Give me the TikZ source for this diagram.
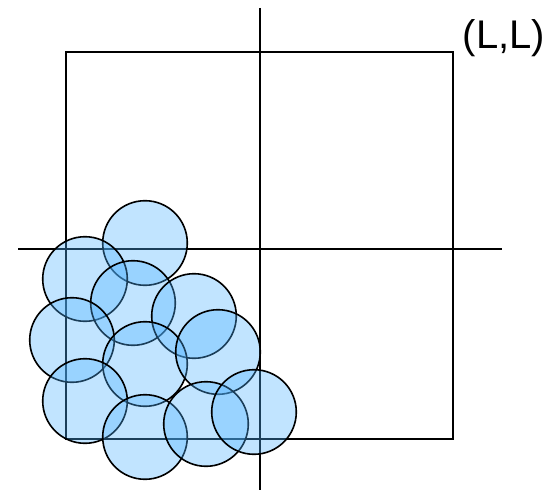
\documentclass[tikz,border=0pt]{standalone}
\usepackage{fontspec}
\setmainfont{Liberation Sans}
\usepackage{xcolor}
\definecolor{cellblue}{RGB}{78,178,255}
\usepackage{tikz}
\usetikzlibrary{positioning}

\begin{document}
\begin{tikzpicture}[
        x=1pt, y=-1pt,
        disk/.style={circle, draw=black, line width=1.6pt, fill=cellblue, fill opacity=0.35, minimum size=84.6pt, inner sep=0pt},
        axis/.style={line width=1.4pt, draw=black}
    ]
        \useasboundingbox (0,0) rectangle (560,492);

        % box and cut lines
        \coordinate (origin) at (66,439);
        \coordinate (corner) at (453,52);
        \draw[axis] (origin) rectangle (corner);
        \coordinate (vtop) at (260,8);
        \coordinate (vbot) at (260,490);
        \coordinate (hleft) at (18,249);
        \coordinate (hright) at (502,249);
        \draw[axis] (vtop) -- (vbot);
        \draw[axis] (hleft) -- (hright);

        \node[font=\fontsize{40}{44}\selectfont] (corner label) at (504,38) {(L,L)};

        % particles
        \foreach \px/\py [count=\i] in {145/243, 85/279, 133/303, 194/316, 72/340, 145/364, 218/352, 85/401, 145/437, 206/424, 254/412} {
            \node[disk] (p\i) at (\px,\py) {};
        }
    \end{tikzpicture}
\end{document}
